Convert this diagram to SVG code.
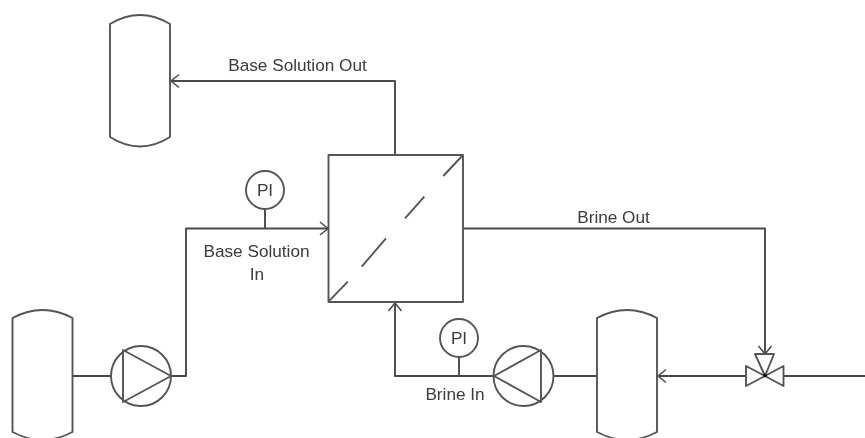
<svg xmlns="http://www.w3.org/2000/svg" width="865" height="438" viewBox="0 0 865 438">
<style>
.s{fill:none;stroke:#555;stroke-width:1.9;stroke-linejoin:round}
.c{fill:none;stroke:#4a4a4a;stroke-width:1.9;stroke-linejoin:round}
.t{font-family:"Liberation Sans",Arial,sans-serif;font-size:17.200px;fill:#3a3a44;text-anchor:middle}
</style>
<defs>
<marker id="a" markerUnits="userSpaceOnUse" markerWidth="12" markerHeight="16" refX="10" refY="8" orient="auto">
<path d="M2 1.500L10 8L2 14.500" fill="none" stroke="#4a4a4a" stroke-width="1.500"/>
</marker>
<filter id="b" x="0" y="0" width="100%" height="100%" filterUnits="userSpaceOnUse"><feGaussianBlur stdDeviation="0.400"/></filter>
</defs>
<rect width="865" height="438" fill="#fff"/>
<g filter="url(#b)">
<g id="connectors">
<path class="c" d="M395 155V81H171" marker-end="url(#a)"/>
<path class="c" d="M72.500 376H111"/>
<path class="c" d="M171 376H186V228.500H328" marker-end="url(#a)"/>
<path class="c" d="M265 209V228.500"/>
<path class="c" d="M463 228.500H765V354" marker-end="url(#a)"/>
<path class="c" d="M494 376H395V303" marker-end="url(#a)"/>
<path class="c" d="M459 357V376"/>
<path class="c" d="M553 376H597"/>
<path class="c" d="M746 376H658" marker-end="url(#a)"/>
<path class="c" d="M783 376H865"/>
</g>
<g id="tank-top"><path class="s" d="M110 24Q140 6 170 24V137Q140 156 110 137Z"/></g>
<g id="tank-feed"><path class="s" d="M12.500 318Q42.500 302 72.500 318V432Q42.500 448 12.500 432Z"/></g>
<g id="tank-brine"><path class="s" d="M597 318Q627 302 657 318V432Q627 448 597 432Z"/></g>
<g id="pump-base"><circle class="s" cx="141" cy="376" r="30"/><path class="s" d="M123 350V402L171 376Z"/></g>
<g id="pump-brine"><circle class="s" cx="523.500" cy="376" r="30"/><path class="s" d="M541 350V402L494 376Z"/></g>
<g id="pi-base"><circle class="s" cx="265" cy="190" r="19"/><text class="t" x="265" y="196">PI</text></g>
<g id="pi-brine"><circle class="s" cx="459" cy="338" r="19"/><text class="t" x="459" y="344">PI</text></g>
<g id="membrane"><rect class="s" x="328.500" y="155" width="134.500" height="147"/><path class="s" d="M328.500 301.700L347.700 281.700M361.700 266.700L386 238.300M405 218.300L424.300 196.700M443.300 176L463 155"/></g>
<g id="valve"><path class="s" d="M746 366V386L765 376ZM783.500 366V386L765 376ZM755 354H774L765 376Z"/><circle cx="765" cy="375.500" r="1.800" fill="#111"/></g>
<g id="labels">
<text class="t" x="297.500" y="71">Base Solution Out</text>
<text class="t" x="256.500" y="257">Base Solution</text>
<text class="t" x="257" y="280">In</text>
<text class="t" x="613.500" y="223">Brine Out</text>
<text class="t" x="455" y="400">Brine In</text>
</g>
</g>
</svg>
